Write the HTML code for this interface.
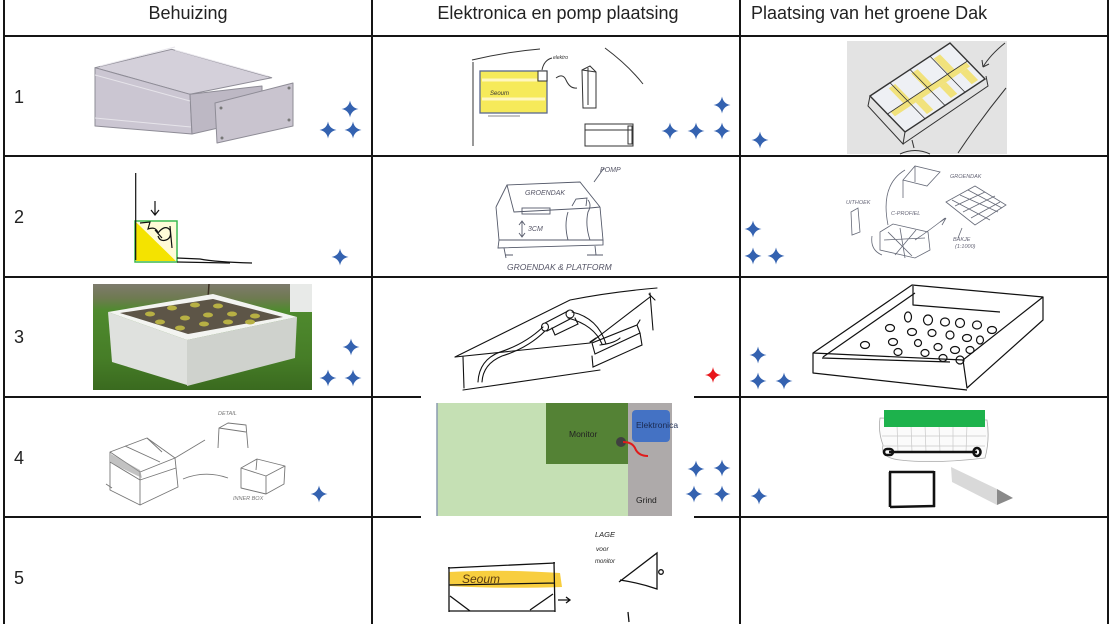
<!DOCTYPE html>
<html><head><meta charset="utf-8"><style>
html,body{margin:0;padding:0;background:#fff;}
svg{display:block;}
text{font-family:"Liberation Sans",Arial,sans-serif;}
</style></head><body>
<svg width="1110" height="624" viewBox="0 0 1110 624" xmlns="http://www.w3.org/2000/svg">
<defs>
<path id="st" d="M0,-8.5 Q1.3,-1.3 8.5,0 Q1.3,1.3 0,8.5 Q-1.3,1.3 -8.5,0 Q-1.3,-1.3 0,-8.5Z" fill="#3462b0"/>
<linearGradient id="grass" x1="0" y1="0" x2="0" y2="1">
<stop offset="0" stop-color="#7e7b6d"/>
<stop offset="0.13" stop-color="#6f7a52"/>
<stop offset="0.25" stop-color="#4f8a2e"/>
<stop offset="0.7" stop-color="#467d27"/>
<stop offset="1" stop-color="#3a6a1f"/>
</linearGradient>
</defs>

<!-- Header text -->
<g fill="#222" font-size="18">
<text x="188" y="19" text-anchor="middle">Behuizing</text>
<text x="558" y="19" text-anchor="middle">Elektronica en pomp plaatsing</text>
<text x="751" y="19">Plaatsing van het groene Dak</text>
</g>
<!-- Row numbers -->
<g fill="#222" font-size="18">
<text x="14" y="103">1</text>
<text x="14" y="223">2</text>
<text x="14" y="343">3</text>
<text x="14" y="464">4</text>
<text x="14" y="584">5</text>
</g>

<!-- ROW 1 COL 1 : enclosure -->
<g stroke="#8e8c96" stroke-width="1" stroke-linejoin="round">
<polygon points="95,67.7 171.7,49.3 271.7,77.7 190,94.3" fill="#d4d0da"/>
<polygon points="95,67.7 190,94.3 192,134 95,126" fill="#cbc6d2"/>
<polygon points="190,94.3 262,86 262,118 192,134" fill="#bdb8c4"/>
<polygon points="215,103 293,83 293,126 217,143" fill="#c9c4cf"/>
<line x1="95" y1="75" x2="190" y2="101" stroke="#e6e4ea"/>
<line x1="95" y1="118" x2="191" y2="127" stroke="#e6e4ea"/>
<line x1="100" y1="66" x2="175" y2="47" stroke="#e8e6ec"/>
<line x1="175" y1="50" x2="268" y2="76" stroke="#e8e6ec"/>
</g>
<g fill="#777"><circle cx="221" cy="108" r="1.5"/><circle cx="289" cy="88" r="1.5"/><circle cx="289" cy="120" r="1.5"/><circle cx="222" cy="138" r="1.5"/></g>
<use href="#st" x="350" y="109"/><use href="#st" x="328" y="130"/><use href="#st" x="353" y="130"/>

<!-- ROW 1 COL 2 : sketch -->
<g fill="none" stroke="#333" stroke-width="1">
<path d="M472,60 Q505,52 540,49"/>
<path d="M473,62 L473,146"/>
<rect x="480" y="71" width="67" height="42" fill="#f6ea5a" stroke="#5a6890" stroke-width="1.3"/>
<line x1="482" y1="80" x2="537" y2="80" stroke="#fff7c0" stroke-width="3"/>
<line x1="482" y1="99" x2="545" y2="99" stroke="#fff7c0" stroke-width="3"/>
<rect x="538" y="71" width="9" height="10" fill="#fff"/>
<path d="M488,116 L520,116" stroke="#888"/>
<path d="M542,70 Q544,60 552,58"/>
<path d="M556,78 Q563,73 566,80 Q570,89 577,88"/>
<path d="M582,70 L590,66 L596,72 L596,108 L583,108 Z"/>
<path d="M588,68 L588,105 M582,70 L596,72"/>
<path d="M605,48 Q628,65 643,84"/>
<rect x="585" y="124" width="48" height="22"/>
<line x1="585" y1="130" x2="633" y2="130"/>
<rect x="628" y="126" width="4" height="18"/>
</g>
<text x="490" y="95" font-size="6" fill="#333" font-style="italic">Seoum</text>
<text x="553" y="59" font-size="5" fill="#333" font-style="italic">elektro</text>
<use href="#st" x="722" y="105"/><use href="#st" x="670" y="131"/><use href="#st" x="696" y="131"/><use href="#st" x="722" y="131"/>

<!-- ROW 1 COL 3 : green roof grid -->
<rect x="847" y="41" width="160" height="113" fill="#e3e3e3"/>
<g transform="matrix(80 -53 35 36 870 96)">
<rect x="0" y="0" width="1" height="1" fill="#eef0f4"/>
<rect x="0.04" y="0.5" width="0.94" height="0.12" fill="#f1e27c"/>
<rect x="0.2" y="0.08" width="0.08" height="0.42" fill="#f1e27c"/>
<rect x="0.48" y="0.08" width="0.08" height="0.42" fill="#f1e27c"/>
<rect x="0.76" y="0.08" width="0.08" height="0.42" fill="#f1e27c"/>
<rect x="0.3" y="0.62" width="0.08" height="0.32" fill="#f1e27c"/>
<rect x="0.6" y="0.62" width="0.08" height="0.32" fill="#f1e27c"/>
<rect x="0.86" y="0.62" width="0.08" height="0.32" fill="#f1e27c"/>
<g fill="none" stroke="#333" vector-effect="non-scaling-stroke">
<rect x="0" y="0" width="1" height="1" vector-effect="non-scaling-stroke" stroke-width="1.4"/>
<line x1="0" y1="0.5" x2="1" y2="0.5" vector-effect="non-scaling-stroke" stroke-width="0.8"/>
<line x1="0.25" y1="0" x2="0.25" y2="1" vector-effect="non-scaling-stroke" stroke-width="0.8"/>
<line x1="0.5" y1="0" x2="0.5" y2="1" vector-effect="non-scaling-stroke" stroke-width="0.8"/>
<line x1="0.75" y1="0" x2="0.75" y2="1" vector-effect="non-scaling-stroke" stroke-width="0.8"/>
</g>
</g>
<g fill="none" stroke="#333" stroke-width="1">
<path d="M870,96 L868,106 L903,144 L905,132"/>
<path d="M903,144 L988,86 L986,76"/>
<path d="M1005,43 Q990,55 983,67 M983,67 L982,60 M983,67 L989,64"/>
<path d="M1006,88 Q980,120 958,153"/>
<path d="M900,154 Q915,147 930,154"/>
<path d="M912,140 L914,148"/>
</g>
<use href="#st" x="760" y="140"/>

<!-- ROW 2 COL 1 -->
<g>
<polygon points="136,222 136,261 176,261" fill="#f4e300"/>
<polygon points="136,222 176,222 176,261" fill="#fffbd8"/>
<rect x="135" y="221" width="42" height="41" fill="none" stroke="#3cb84a" stroke-width="1.5"/>
<g fill="none" stroke="#111" stroke-width="1.2">
<line x1="135.7" y1="173" x2="135.7" y2="260"/>
<path d="M155,201 L155,215 M151,210 L155,215 L159,210"/>
<path d="M140,223 L150,222 L148,229 Q156,226 158,233 Q165,224 170,230 Q172,238 166,240 Q160,242 158,236 M155,230 L162,238 M170,226 L172,248"/>
<path d="M177,258 L200,259 Q215,262 252,263"/>
<path d="M177,262 L230,263"/>
</g>
</g>
<use href="#st" x="340" y="257"/>

<!-- ROW 2 COL 2 -->
<g fill="none" stroke="#555a6a" stroke-width="0.9">
<path d="M496,207 L507,185 L580,182 L600,207"/>
<path d="M507,185 L514,212 L590,208 L600,207"/>
<path d="M496,207 L499,240 L603,240 L600,207"/>
<path d="M499,240 L498,248 L603,245 L603,240"/>
<path d="M504,248 L506,258 M595,246 L596,255 M505,255 L513,255 M587,255 L603,255"/>
<rect x="522" y="208" width="28" height="6"/>
<path d="M572,206 L576,199 L587,198 L586,206"/>
<path d="M588,200 Q592,205 588,212 Q585,225 590,240"/>
<path d="M568,212 Q564,225 568,240"/>
<path d="M522,222 L522,236 M519,225 L522,221 L525,225 M519,233 L522,237 L525,233"/>
<path d="M594,182 L604,168"/>
</g>
<g fill="#556" font-size="7" font-style="italic">
<text x="525" y="195">GROENDAK</text>
<text x="600" y="172">POMP</text>
<text x="528" y="231">3CM</text>
<text x="507" y="270" font-size="8.5">GROENDAK &amp; PLATFORM</text>
</g>

<!-- ROW 2 COL 3 -->
<g fill="none" stroke="#666a78" stroke-width="0.8">
<path d="M851,212 L858,208 L860,232 L852,235 Z"/>
<path d="M903,180 L915,166 L940,172 L927,186 Z M903,180 L903,198 M915,166 L915,182"/>
<path d="M946,202 L975,186 L1006,205 L975,225 Z"/>
<path d="M952,200 L990,220 M960,195 L998,212 M968,190 L1002,208 M955,206 L985,192 M963,212 L995,196 M971,218 L1000,202"/>
<path d="M880,232 L893,224 L928,232 L930,250 L915,258 L880,250 Z"/>
<path d="M884,240 L925,238 M888,232 L912,256 M900,228 L905,258 M916,230 L895,255"/>
<path d="M905,170 Q880,185 888,225"/>
<path d="M872,236 Q870,250 882,255"/>
<path d="M915,240 Q930,230 945,218 M940,222 L946,218 L942,225"/>
<path d="M962,228 L958,238"/>
</g>
<g fill="#667" font-size="5.5" font-style="italic">
<text x="846" y="204">UITHOEK</text>
<text x="891" y="215">C-PROFIEL</text>
<text x="950" y="178">GROENDAK</text>
<text x="953" y="241">BAKJE</text>
<text x="955" y="248">(1:1000)</text>
</g>
<use href="#st" x="753" y="229"/><use href="#st" x="753" y="256"/><use href="#st" x="776" y="256"/>

<!-- ROW 3 COL 1 : photo -->
<rect x="93" y="284" width="219" height="106" fill="url(#grass)"/>
<rect x="290" y="284" width="22" height="28" fill="#e8eae8"/>
<line x1="209" y1="284" x2="207" y2="313" stroke="#3a2e22" stroke-width="1.5"/>
<polygon points="108,312 187,340 187,385 112,362" fill="#dfe1de"/>
<polygon points="187,340 297,317 295,358 187,386" fill="#cfd2cd"/>
<polygon points="108,312 213,294 297,317 187,340" fill="#f3f4f1"/>
<polygon points="120,313 213,299 283,317 188,334" fill="#5d5547"/>
<g fill="#b7b044">
<ellipse cx="150" cy="314" rx="5" ry="2.5"/><ellipse cx="172" cy="308" rx="5" ry="2.5"/><ellipse cx="195" cy="305" rx="5" ry="2.5"/><ellipse cx="218" cy="306" rx="5" ry="2.5"/>
<ellipse cx="160" cy="322" rx="5" ry="2.5"/><ellipse cx="185" cy="318" rx="5" ry="2.5"/><ellipse cx="208" cy="315" rx="5" ry="2.5"/><ellipse cx="232" cy="314" rx="5" ry="2.5"/><ellipse cx="255" cy="316" rx="5" ry="2.5"/>
<ellipse cx="180" cy="328" rx="5" ry="2.5"/><ellipse cx="204" cy="324" rx="5" ry="2.5"/><ellipse cx="228" cy="322" rx="5" ry="2.5"/><ellipse cx="250" cy="322" rx="5" ry="2.5"/>
</g>
<use href="#st" x="351" y="347"/><use href="#st" x="328" y="378"/><use href="#st" x="353" y="378"/>

<!-- ROW 3 COL 2 -->
<g fill="none" stroke="#111" stroke-width="1.1" stroke-linecap="round">
<path d="M455,357 Q510,330 570,300 Q610,292 657,288"/>
<path d="M455,357 Q520,350 590,343 Q620,320 650,297"/>
<path d="M463,357 L464,388"/>
<path d="M463,390 Q530,380 600,370"/>
<path d="M650,293 L653,330"/>
<path d="M649,294 L655,300"/>
<path d="M478,382 Q479,360 500,352 Q525,344 543,327"/>
<path d="M482,382 Q483,364 502,356 Q528,348 545,331"/>
<ellipse cx="545" cy="327" rx="3.5" ry="4"/>
<path d="M545,323 L568,311 M547,331 L570,319"/>
<ellipse cx="570" cy="314" rx="4" ry="4"/>
<path d="M572,312 Q598,318 606,344 M568,318 Q594,325 602,344"/>
<path d="M552,328 L555,335 L578,324 L575,318"/>
<path d="M592,343 L595,354 L640,333 L637,325 Z"/>
<path d="M592,356 L593,367 L642,345 L640,333"/>
<path d="M600,345 Q615,343 620,338 M637,325 L640,320 M590,342 L596,338"/>
</g>
<path d="M713,367 Q714,374 721,375 Q714,376 713,383 Q712,376 705,375 Q712,374 713,367Z" fill="#e8171c"/>

<!-- ROW 3 COL 3 : tray -->
<g fill="none" stroke="#111" stroke-width="1.2" stroke-linejoin="round">
<path d="M813,353 L912,285 L1043,297 L963,360 Z"/>
<path d="M823,357 L915,293 M913,286 L913,305 L1000,312"/>
<path d="M813,353 L813,373 L967,390 M963,360 L967,388 L1043,320 L1043,297"/>
<path d="M822,358 L950,362"/>
</g>
<g fill="none" stroke="#111" stroke-width="1.2">
<ellipse cx="908" cy="317" rx="3.5" ry="5"/><ellipse cx="928" cy="320" rx="4.5" ry="5"/><ellipse cx="945" cy="322" rx="4.5" ry="4"/><ellipse cx="960" cy="323" rx="4.5" ry="4.5"/><ellipse cx="977" cy="325" rx="4.5" ry="4"/><ellipse cx="992" cy="330" rx="4.5" ry="3.5"/>
<ellipse cx="890" cy="328" rx="4.5" ry="3.5"/><ellipse cx="912" cy="332" rx="4.5" ry="3.5"/><ellipse cx="932" cy="333" rx="4" ry="3.5"/><ellipse cx="950" cy="335" rx="4" ry="4"/><ellipse cx="967" cy="338" rx="4.5" ry="3.5"/><ellipse cx="980" cy="340" rx="3.5" ry="4"/>
<ellipse cx="865" cy="345" rx="4.5" ry="3.5"/><ellipse cx="893" cy="342" rx="4.5" ry="3.5"/><ellipse cx="918" cy="343" rx="3.5" ry="3.5"/><ellipse cx="938" cy="347" rx="4" ry="3.5"/><ellipse cx="955" cy="350" rx="4.5" ry="3.5"/><ellipse cx="970" cy="350" rx="4" ry="3.5"/>
<ellipse cx="898" cy="352" rx="4" ry="3.5"/><ellipse cx="925" cy="353" rx="4" ry="3.5"/><ellipse cx="943" cy="358" rx="4" ry="3.5"/><ellipse cx="960" cy="360" rx="4" ry="4"/>
</g>
<use href="#st" x="758" y="355"/><use href="#st" x="758" y="381"/><use href="#st" x="784" y="381"/>

<!-- ROW 4 COL 1 -->
<g fill="none" stroke="#777" stroke-width="0.9" stroke-linejoin="round">
<path d="M110,452 L147,438 L175,458 L140,472 Z"/>
<path d="M110,452 L110,490 L140,505 L140,472 M175,458 L178,487 L140,505"/>
<path d="M110,462 L140,480 L176,468"/>
<path d="M125,446 L160,462 M147,438 L162,452"/>
<path d="M175,458 L205,440 M183,479 Q205,470 228,478"/>
<path d="M218,448 L219,428 L228,423 L246,425 L248,448 M219,428 L246,432"/>
<path d="M241,468 L257,459 L285,466 L284,484 L266,494 L241,488 Z M241,468 L266,476 L285,466 M266,476 L266,494 M257,459 L256,470"/>
<path d="M106,484 L112,488"/>
</g>
<path d="M111,454 L140,470 L142,478 L111,463 Z" fill="#999" opacity="0.6"/>
<g fill="#777" font-size="5.5" font-style="italic">
<text x="218" y="415">DETAIL</text>
<text x="233" y="500">INNER BOX</text>
</g>
<use href="#st" x="319" y="494"/>

<!-- ROW 4 COL 2 : diagram -->
<rect x="437" y="403" width="191" height="113" fill="#c5e0b4"/>
<line x1="437" y1="403" x2="437" y2="516" stroke="#8a9ab0" stroke-width="1.5"/>
<rect x="546" y="403" width="82" height="61" fill="#548235"/>
<rect x="628" y="403" width="44" height="113" fill="#aeaaaa"/>
<rect x="632" y="410" width="38" height="32" rx="4" fill="#4472c4"/>
<circle cx="621" cy="442" r="5" fill="#404040"/>
<path d="M623,442 Q632,442 635,448 Q638,456 648,456" fill="none" stroke="#e01b1b" stroke-width="2"/>
<g font-size="8.5" fill="#222">
<text x="569" y="437">Monitor</text>
<text x="636" y="428" fill="#1a2a50">Elektronica</text>
<text x="636" y="503">Grind</text>
</g>
<use href="#st" x="696" y="469"/><use href="#st" x="722" y="468"/><use href="#st" x="694" y="494"/><use href="#st" x="722" y="494"/>

<!-- ROW 4 COL 3 -->
<path d="M880,418 Q878,432 883,445 Q880,458 900,460 Q935,464 985,458 Q990,440 987,420 Z" fill="#fbfbfb" stroke="#aaa" stroke-width="0.8"/>
<g stroke="#c8c8c8" stroke-width="0.7">
<line x1="897" y1="425" x2="898" y2="452"/><line x1="911" y1="425" x2="912" y2="452"/><line x1="925" y1="425" x2="926" y2="452"/><line x1="939" y1="425" x2="940" y2="452"/><line x1="953" y1="425" x2="953" y2="452"/><line x1="967" y1="425" x2="966" y2="452"/>
<line x1="882" y1="436" x2="986" y2="436"/><line x1="883" y1="446" x2="985" y2="446"/>
</g>
<rect x="884" y="410" width="101" height="17" fill="#1db24c"/>
<g fill="none" stroke="#111" stroke-width="2.6">
<line x1="889" y1="452" x2="977" y2="452"/>
<rect x="884" y="449" width="9" height="6" rx="3"/>
<ellipse cx="977" cy="452" rx="3.5" ry="4"/>
<path d="M890,472 L890,507 M889,472 L934,472 M934,471 L934,507 M890,507 L935,506"/>
</g>
<polygon points="951,467 997,489 997,505 952,482" fill="#d9d9d9"/>
<polygon points="997,489 1013,498 997,505" fill="#8a8a8a"/>
<use href="#st" x="759" y="496"/>

<!-- ROW 5 COL 2 -->
<path d="M449,572 Q500,569 560,573 L562,587 Q500,589 450,586 Z" fill="#f7c92a" opacity="0.9"/>
<g fill="none" stroke="#111" stroke-width="1.3">
<path d="M448,568 L555,563 M449,567 L449,612 M554,562 L555,612 M449,585 L555,583 M449,611 L555,611"/>
<path d="M450,596 L470,611 M553,594 L530,610"/>
<path d="M558,600 L570,600 M566,597 L570,600 L566,603"/>
<path d="M619,582 L657,553 L657,589 Q640,583 620,580"/>
<circle cx="661" cy="572" r="2.3"/>
<line x1="628" y1="612" x2="629" y2="622"/>
</g>
<text x="462" y="583" font-size="12" fill="#5a3a10" font-style="italic">Seoum</text>
<g fill="#222" font-size="7.5" font-style="italic">
<text x="595" y="537">LAGE</text>
<text x="596" y="551" font-size="6.5">voor</text>
<text x="595" y="563" font-size="6">monitor</text>
</g>

<!-- GRID LINES -->
<g stroke="#151515" stroke-width="2">
<line x1="4" y1="0" x2="4" y2="624"/>
<line x1="372" y1="0" x2="372" y2="624"/>
<line x1="740" y1="0" x2="740" y2="624"/>
<line x1="1108" y1="0" x2="1108" y2="624"/>
<line x1="4" y1="36" x2="1108" y2="36"/>
<line x1="4" y1="156" x2="1108" y2="156"/>
<line x1="4" y1="277" x2="1108" y2="277"/>
<line x1="4" y1="397" x2="421" y2="397"/>
<line x1="694" y1="397" x2="1108" y2="397"/>
<line x1="4" y1="517" x2="421" y2="517"/>
<line x1="694" y1="517" x2="1108" y2="517"/>
</g>
</svg>
</body></html>
